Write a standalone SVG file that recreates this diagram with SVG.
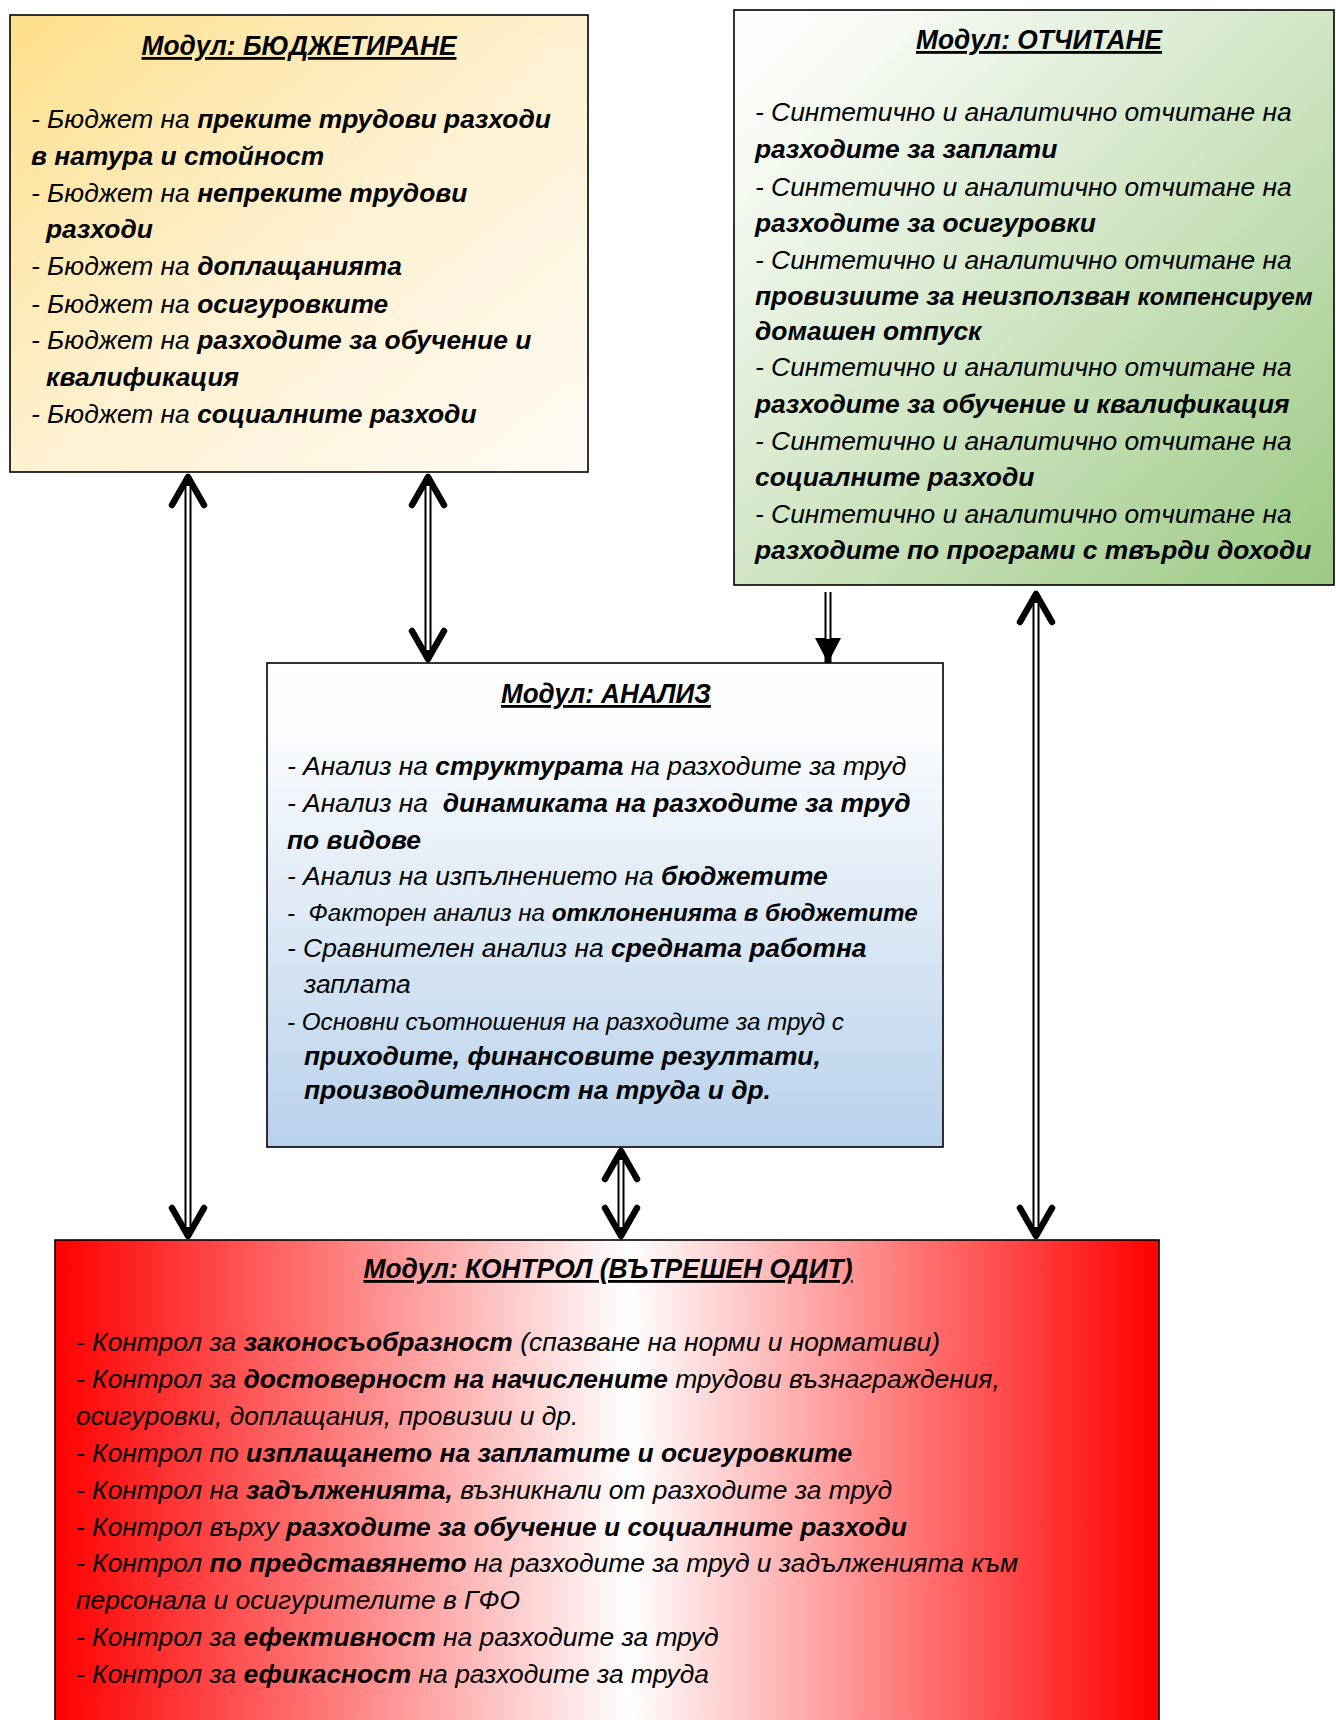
<svg xmlns="http://www.w3.org/2000/svg" width="1336" height="1720" viewBox="0 0 1336 1720">
<defs>
<linearGradient id="gBud" x1="0" y1="0" x2="1" y2="1">
<stop offset="0" stop-color="#FEDF8A"/><stop offset="0.5" stop-color="#FFF1D0"/><stop offset="1" stop-color="#FFFCF6"/>
</linearGradient>
<linearGradient id="gAcc" x1="0" y1="0" x2="1" y2="1">
<stop offset="0" stop-color="#FFFFFF"/><stop offset="0.15" stop-color="#F6FAF3"/><stop offset="1" stop-color="#9CC983"/>
</linearGradient>
<linearGradient id="gAna" x1="0" y1="0" x2="0" y2="1">
<stop offset="0" stop-color="#FFFFFF"/><stop offset="0.15" stop-color="#FAFCFE"/><stop offset="1" stop-color="#B8D1EB"/>
</linearGradient>
<linearGradient id="gCon" x1="0" y1="0" x2="1" y2="0">
<stop offset="0" stop-color="#FF0000"/><stop offset="0.52" stop-color="#FFFFFF"/><stop offset="1" stop-color="#FF0000"/>
</linearGradient>
<marker id="chev" viewBox="0 0 40 40" refX="34" refY="20" markerWidth="40" markerHeight="40" markerUnits="userSpaceOnUse" orient="auto-start-reverse" overflow="visible">
<path d="M6,4 L34,20 L6,36" fill="none" stroke="#000" stroke-width="6.5" stroke-linecap="round" stroke-linejoin="round"/>
</marker>
<marker id="tri" viewBox="0 0 26 26" refX="25" refY="13" markerWidth="26" markerHeight="26" markerUnits="userSpaceOnUse" orient="auto" overflow="visible">
<path d="M0,0 L25,13 L0,26 Z" fill="#000"/>
</marker>
</defs>
<style>
.box{stroke:#000;stroke-width:1.6}
.t{font-family:"Liberation Sans",Arial,sans-serif;font-style:italic;font-size:26.4px;fill:#000}
.s{font-size:24.2px}
.b{font-weight:bold}
.h{font-family:"Liberation Sans",Arial,sans-serif;font-style:italic;font-weight:bold;font-size:28px;fill:#000;text-anchor:middle;text-decoration:underline}
.sh{fill:none;stroke:#000;stroke-width:7}
.sw{fill:none;stroke:#fff;stroke-width:3}
</style>
<rect width="1336" height="1720" fill="#fff"/>

<g id="connectors">
<path class="sh" d="M188,477 V1236" marker-start="url(#chev)" marker-end="url(#chev)"/>
<path class="sw" d="M188,486 V1227"/>
<path class="sh" d="M428,477 V659" marker-start="url(#chev)" marker-end="url(#chev)"/>
<path class="sw" d="M428,486 V650"/>
<path class="sh" d="M828,592 V663" marker-end="url(#tri)"/>
<path class="sw" d="M828,592 V639"/>
<path class="sh" d="M1036,594 V1236" marker-start="url(#chev)" marker-end="url(#chev)"/>
<path class="sw" d="M1036,603 V1227"/>
<path class="sh" d="M621,1151 V1236" marker-start="url(#chev)" marker-end="url(#chev)"/>
<path class="sw" d="M621,1160 V1227"/>
</g>

<g id="budget">
<rect class="box" x="10" y="15" width="578" height="457" fill="url(#gBud)"/>
<text class="h" x="299" y="55" textLength="315" lengthAdjust="spacingAndGlyphs">Модул: БЮДЖЕТИРАНЕ</text>
<text class="t" x="31" y="128">- Бюджет на <tspan class="b">преките трудови разходи</tspan></text>
<text class="t b" x="31" y="164.5">в натура и стойност</text>
<text class="t" x="31" y="201.5">- Бюджет на <tspan class="b">непреките трудови</tspan></text>
<text class="t b" x="46" y="238">разходи</text>
<text class="t" x="31" y="275">- Бюджет на <tspan class="b">доплащанията</tspan></text>
<text class="t" x="31" y="312.5">- Бюджет на <tspan class="b">осигуровките</tspan></text>
<text class="t" x="31" y="348.5">- Бюджет на <tspan class="b">разходите за обучение и</tspan></text>
<text class="t b" x="46" y="386">квалификация</text>
<text class="t" x="31" y="423">- Бюджет на <tspan class="b">социалните разходи</tspan></text>
</g>

<g id="accounting">
<rect class="box" x="734" y="10" width="600" height="575" fill="url(#gAcc)"/>
<text class="h" x="1039" y="49" textLength="246" lengthAdjust="spacingAndGlyphs">Модул: ОТЧИТАНЕ</text>
<text class="t" x="755" y="121">- Синтетично и аналитично отчитане на</text>
<text class="t b" x="755" y="158">разходите за заплати</text>
<text class="t" x="755" y="195.5">- Синтетично и аналитично отчитане на</text>
<text class="t b" x="755" y="231.7">разходите за осигуровки</text>
<text class="t" x="755" y="269">- Синтетично и аналитично отчитане на</text>
<text class="t b" x="755" y="305">провизиите за неизползван <tspan class="s">компенсируем</tspan></text>
<text class="t b" x="755" y="340">домашен отпуск</text>
<text class="t" x="755" y="375.5">- Синтетично и аналитично отчитане на</text>
<text class="t b" x="755" y="412.5">разходите за обучение и квалификация</text>
<text class="t" x="755" y="450">- Синтетично и аналитично отчитане на</text>
<text class="t b" x="755" y="486">социалните разходи</text>
<text class="t" x="755" y="522.5">- Синтетично и аналитично отчитане на</text>
<text class="t b" x="755" y="558.5">разходите по програми с твърди доходи</text>
</g>

<g id="analysis">
<rect class="box" x="267" y="663" width="676" height="484" fill="url(#gAna)"/>
<text class="h" x="606" y="703" textLength="210" lengthAdjust="spacingAndGlyphs">Модул: АНАЛИЗ</text>
<text class="t" x="287" y="774.6">- Анализ на <tspan class="b">структурата</tspan> на разходите за труд</text>
<text class="t" x="287" y="812">- Анализ на &#160;<tspan class="b">динамиката на разходите за труд</tspan></text>
<text class="t b" x="287" y="849">по видове</text>
<text class="t" x="287" y="885.4">- Анализ на изпълнението на <tspan class="b">бюджетите</tspan></text>
<text class="t s" x="287" y="920.5">- &#160;Факторен анализ на <tspan class="b">отклоненията в бюджетите</tspan></text>
<text class="t" x="287" y="956.7">- Сравнителен анализ на <tspan class="b">средната работна</tspan></text>
<text class="t" x="304" y="993">заплата</text>
<text class="t s" x="287" y="1030">- Основни съотношения на разходите за труд с</text>
<text class="t b" x="304" y="1065">приходите, финансовите резултати,</text>
<text class="t b" x="304" y="1099">производителност на труда и др.</text>
</g>

<g id="control">
<rect class="box" x="55" y="1240" width="1104" height="484" fill="url(#gCon)"/>
<text class="h" x="608" y="1278" textLength="489" lengthAdjust="spacingAndGlyphs">Модул: КОНТРОЛ (ВЪТРЕШЕН ОДИТ)</text>
<text class="t" x="76" y="1350.5">- Контрол за <tspan class="b">законосъобразност</tspan> (спазване на норми и нормативи)</text>
<text class="t" x="76" y="1388">- Контрол за <tspan class="b">достоверност на начислените</tspan> трудови възнаграждения,</text>
<text class="t" x="76" y="1425">осигуровки, доплащания, провизии и др.</text>
<text class="t" x="76" y="1462.4">- Контрол по <tspan class="b">изплащането на заплатите и осигуровките</tspan></text>
<text class="t" x="76" y="1498.6">- Контрол на <tspan class="b">задълженията,</tspan> възникнали от разходите за труд</text>
<text class="t" x="76" y="1536">- Контрол върху <tspan class="b">разходите за обучение и социалните разходи</tspan></text>
<text class="t" x="76" y="1572">- Контрол <tspan class="b">по представянето</tspan> на разходите за труд и задълженията към</text>
<text class="t" x="76" y="1609.4">персонала и осигурителите в ГФО</text>
<text class="t" x="76" y="1645.6">- Контрол за <tspan class="b">ефективност</tspan> на разходите за труд</text>
<text class="t" x="76" y="1683">- Контрол за <tspan class="b">ефикасност</tspan> на разходите за труда</text>
</g>
</svg>
